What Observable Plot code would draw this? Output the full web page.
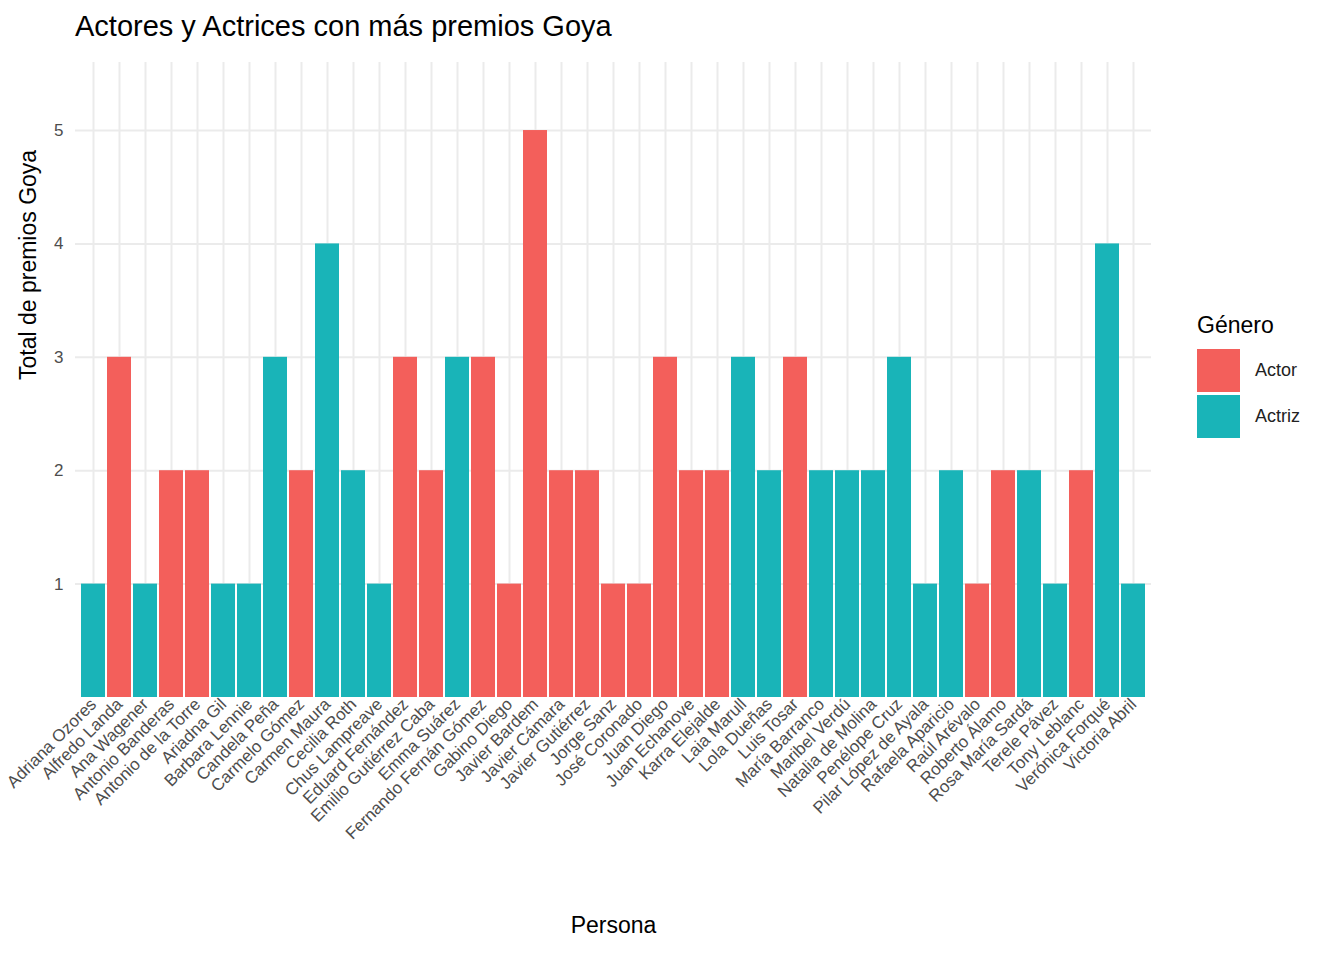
<!DOCTYPE html>
<html>
<head>
<meta charset="utf-8">
<script src="https://cdn.jsdelivr.net/npm/d3@7"></script>
<script src="https://cdn.jsdelivr.net/npm/@observablehq/plot@0.6"></script>
<style>
  body { margin: 0; font-family: "Liberation Sans", Arial, sans-serif; background: #fff; }
  #wrap { position: relative; width: 1344px; height: 960px; }
  #title { position: absolute; left: 75px; top: 10px; font-size: 29px; color: #000; }
  #chart { position: absolute; left: 0; top: 0; }
  #legend { position: absolute; left: 1197px; top: 312px; }
  .item { display: flex; align-items: center; height: 46px; font-size: 18px; color: #222; }
  .sw { width: 43px; height: 43px; margin-right: 15px; }
  #chart svg text { font-size: 17px; }
</style>
</head>
<body>
<div id="wrap">
  <div id="chart"></div>
  <div id="title">Actores y Actrices con más premios Goya</div>
  <div id="legend">
    <div style="margin-bottom:8px;font-size:23px">Género</div>
    <div class="item"><div class="sw" style="background:#F35F5B"></div>Actor</div>
    <div class="item"><div class="sw" style="background:#19B4B8"></div>Actriz</div>
  </div>
</div>
<script>
const personas = ["Adriana Ozores","Alfredo Landa","Ana Wagener","Antonio Banderas","Antonio de la Torre","Ariadna Gil","Barbara Lennie","Candela Peña","Carmelo Gómez","Carmen Maura","Cecilia Roth","Chus Lampreave","Eduard Fernández","Emilio Gutiérrez Caba","Emma Suárez","Fernando Fernán Gómez","Gabino Diego","Javier Bardem","Javier Cámara","Javier Gutiérrez","Jorge Sanz","José Coronado","Juan Diego","Juan Echanove","Karra Elejalde","Laia Marull","Lola Dueñas","Luis Tosar","María Barranco","Maribel Verdú","Natalia de Molina","Penélope Cruz","Pilar López de Ayala","Rafaela Aparicio","Raúl Arévalo","Roberto Álamo","Rosa María Sardá","Terele Pávez","Tony Leblanc","Verónica Forqué","Victoria Abril"];
const premios = [1,3,1,2,2,1,1,3,2,4,2,1,3,2,3,3,1,5,2,2,1,1,3,2,2,3,2,3,2,2,2,3,1,2,1,2,2,1,2,4,1];
const genero = ["Actriz","Actor","Actriz","Actor","Actor","Actriz","Actriz","Actriz","Actor","Actriz","Actriz","Actriz","Actor","Actor","Actriz","Actor","Actor","Actor","Actor","Actor","Actor","Actor","Actor","Actor","Actor","Actriz","Actriz","Actor","Actriz","Actriz","Actriz","Actriz","Actriz","Actriz","Actor","Actor","Actriz","Actriz","Actor","Actriz","Actriz"];
const yTicks = [1,2,3,4,5];

const data = personas.map((p, i) => ({persona: p, total: premios[i], genero: genero[i]}));

const chart = Plot.plot({
  width: 1344,
  height: 960,
  marginTop: 62,
  marginBottom: 263,
  marginLeft: 75,
  marginRight: 193,
  style: {fontFamily: "Liberation Sans, Arial, sans-serif", color: "#4d4d4d"},
  x: {domain: personas, padding: 0.08, label: null},
  y: {domain: [0, 5.6], label: null},
  color: {domain: ["Actor","Actriz"], range: ["#F35F5B","#19B4B8"]},
  marks: [
    Plot.gridX(personas, {stroke: "#ebebeb", strokeOpacity: 1, strokeWidth: 2}),
    Plot.gridY(yTicks, {stroke: "#ebebeb", strokeOpacity: 1, strokeWidth: 2}),
    Plot.barY(data, {x: "persona", y: "total", fill: "genero"}),
    Plot.axisX({tickSize: 0, tickRotate: -45, tickPadding: 4, fill: "#4d4d4d", label: null}),
    Plot.axisY(yTicks, {tickSize: 0, tickPadding: 12, tickFormat: "d", fill: "#4d4d4d", label: null}),
    Plot.text(["Persona"], {frameAnchor: "bottom", dy: 235, fill: "#000", className: "big"}),
    Plot.text(["Total de premios Goya"], {frameAnchor: "left", dx: -47, rotate: -90, fill: "#000", className: "big"})
  ]
});
document.getElementById("chart").append(chart);
document.querySelectorAll("#chart .big text").forEach(t => t.style.fontSize = "23px");
</script>
</body>
</html>
